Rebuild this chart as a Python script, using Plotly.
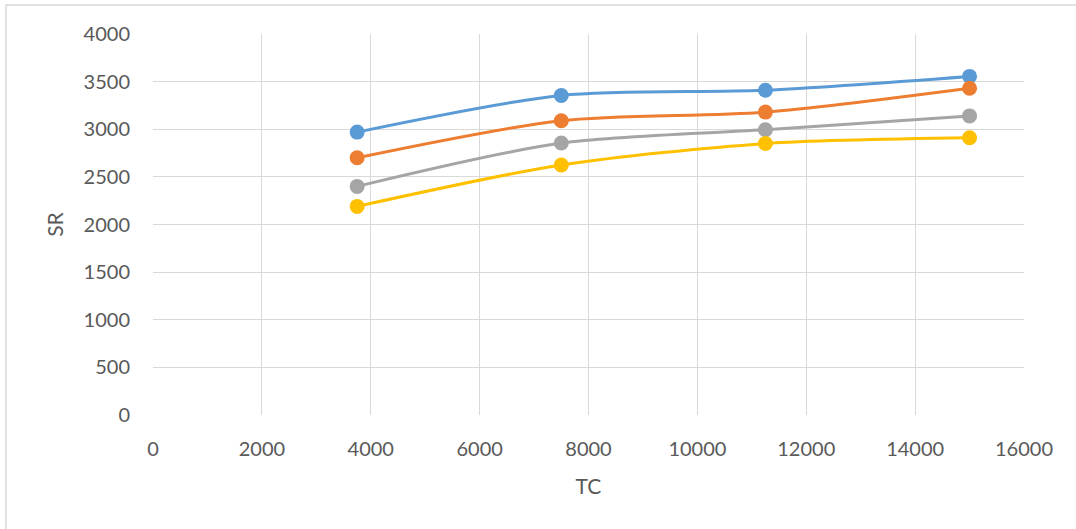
import plotly.graph_objects as go

# Throughput values (TC) and the four SR series
tc = [3750, 7500, 11250, 15000]
sr_blue = [2970, 3355, 3410, 3555]
sr_orange = [2700, 3090, 3180, 3430]
sr_gray = [2400, 2855, 2995, 3140]
sr_yellow = [2190, 2625, 2850, 2910]

x_ticks = [0, 2000, 4000, 6000, 8000, 10000, 12000, 14000, 16000]
y_ticks = [0, 500, 1000, 1500, 2000, 2500, 3000, 3500, 4000]

series = [
    (sr_blue, "#5B9BD5"),
    (sr_orange, "#ED7D31"),
    (sr_gray, "#A5A5A5"),
    (sr_yellow, "#FFC000"),
]

fig = go.Figure()
for values, color in series:
    fig.add_trace(go.Scatter(
        x=tc, y=values, mode="lines+markers",
        line=dict(color=color, width=3, shape="spline", smoothing=0.8),
        marker=dict(color=color, size=15),
        showlegend=False, hoverinfo="x+y",
    ))

W, H = 1076, 529
L, R, T, B = 153, 52, 34, 114
pw, ph = W - L - R, H - T - B

def px_x(p):
    return (p - L) / pw

def px_y(p):
    return (H - B - p) / ph

fig.update_layout(
    width=W, height=H,
    margin=dict(l=L, r=R, t=T, b=B),
    paper_bgcolor="white", plot_bgcolor="white",
    font=dict(family="Lato, Open Sans, sans-serif", size=20, color="#595959"),
    xaxis=dict(
        range=[0, 16000], tickvals=x_ticks, ticktext=[str(v) for v in x_ticks],
        showgrid=True, gridcolor="#D9D9D9", gridwidth=1.3,
        zeroline=False, showline=False, ticks="",
        ticklabelstandoff=20,
        title=dict(text="TC", font=dict(size=21, color="#595959"), standoff=20),
        fixedrange=True,
    ),
    yaxis=dict(
        range=[0, 4000], tickvals=y_ticks, ticktext=[str(v) for v in y_ticks],
        showgrid=True, gridcolor="#D9D9D9", gridwidth=1.3,
        zeroline=False, showline=False, ticks="",
        ticklabelstandoff=22,
        title=dict(text="SR", font=dict(size=21, color="#595959"), standoff=14),
        fixedrange=True,
    ),
    shapes=[
        dict(type="rect", xref="paper", yref="paper",
             x0=px_x(6), x1=px_x(1085), y0=px_y(540), y1=px_y(5),
             line=dict(color="#D9D9D9", width=1.5), fillcolor="rgba(0,0,0,0)",
             layer="below"),
    ],
)

fig.write_html("out.html")
